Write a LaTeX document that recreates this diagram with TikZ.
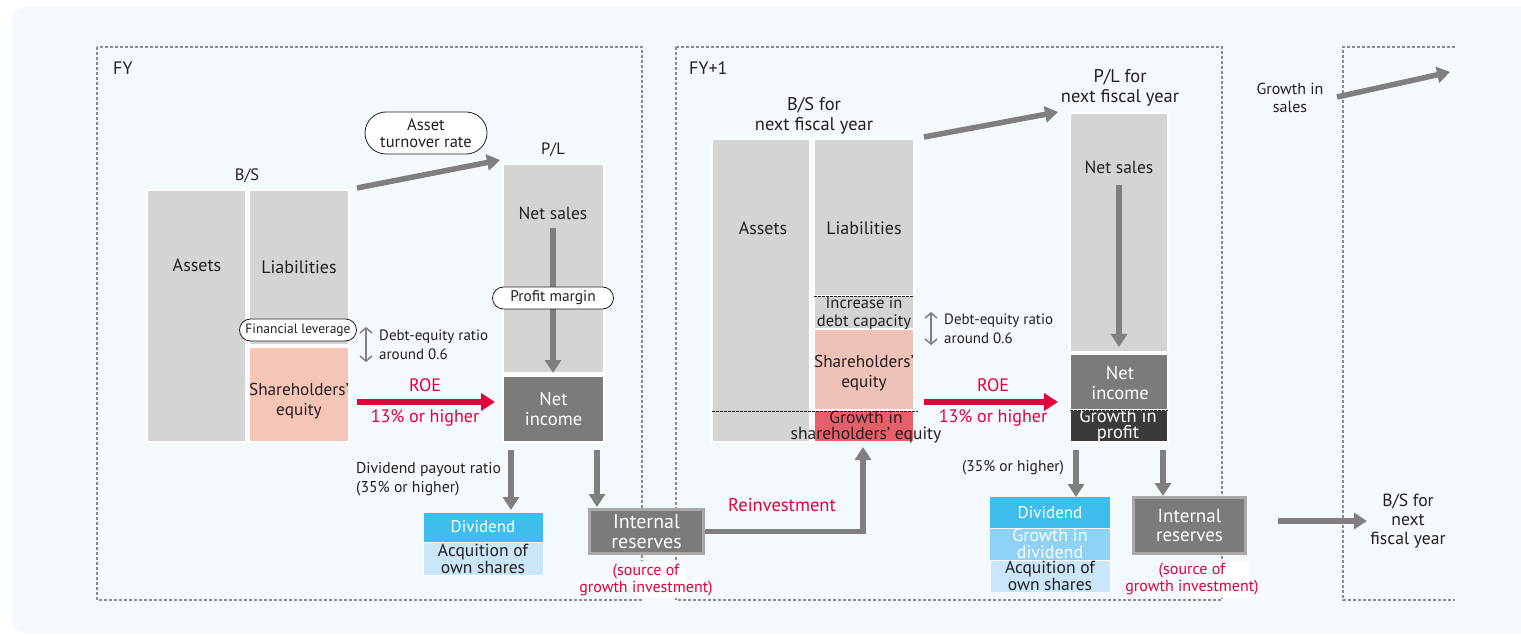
\documentclass[tikz,border=0pt]{standalone}
\usepackage{fontspec}
\setmainfont{PT Sans}
\usetikzlibrary{arrows.meta}
\definecolor{bg}{HTML}{F3F9FD}
\definecolor{txt}{HTML}{231F20}
\definecolor{lgray}{HTML}{D4D4D4}
\definecolor{dgray}{HTML}{7B7B7B}
\definecolor{ddgray}{HTML}{3A3A3A}
\definecolor{salmon}{HTML}{F5C5B6}
\definecolor{salmontwo}{HTML}{EEC2B7}
\definecolor{redbox}{HTML}{E6606B}
\definecolor{cyanbox}{HTML}{3EBEEE}
\definecolor{mblue}{HTML}{8ED2F5}
\definecolor{lblue}{HTML}{C9E7F8}
\definecolor{agray}{HTML}{7F7F7F}
\definecolor{rojo}{HTML}{E5003A}
\definecolor{framec}{HTML}{8C8C8C}
\definecolor{irborder}{HTML}{A8A8A8}
\newcommand\fs[2]{\fontsize{#1}{#2}\selectfont}
\tikzset{
 lbl/.style={inner sep=0pt, align=center, text=txt},
 box/.style={draw=white, line width=1.5pt, inner sep=0pt, align=center, text=txt},
 pill/.style={draw=txt, fill=white, line width=0.8pt, rounded corners=#1, inner sep=0pt, text=txt, align=center},
 garrow/.style={draw=agray, line width=5.5pt, -{Triangle[width=16pt,length=13pt]}},
 rarrow/.style={draw=rojo, line width=5.5pt, -{Triangle[width=17pt,length=14pt]}},
 darrow/.style={draw=agray, line width=1.5pt, {Straight Barb[length=5pt,width=12pt]}-{Straight Barb[length=5pt,width=12pt]}},
 frame/.style={draw=framec, line width=1.1pt, dash pattern=on 3pt off 2pt},
 dline/.style={draw=txt, line width=0.9pt, dash pattern=on 2.5pt off 1.5pt},
 irbox/.style={draw=irborder, line width=3pt, fill=dgray, text=white, inner sep=0pt, align=center},
}
\begin{document}
\begin{tikzpicture}[x=1pt,y=-1pt]
\useasboundingbox (0,0) rectangle (1521,636);
\fill[white] (0,0) rectangle (1521,636);
\begin{scope}
\clip (0,0) rectangle (1521,636);
\fill[bg, rounded corners=15pt] (12,7) rectangle (1560,633);
\end{scope}
% frames
\draw[frame] (97,47) rectangle (642,600);
\draw[frame] (676,47) rectangle (1222,600);
\draw[frame] (1455,47) -- (1343,47) -- (1343,600) -- (1455,600);
\fill[white] (635,561) rectangle (686,598);
\fill[white] (1193,561) rectangle (1250,598);

% ===== FY =====
\node[lbl, anchor=west, font=\fs{18}{20}] (fy) at (113,68) {FY};
\node[lbl, font=\fs{16.5}{19}] (bslbl) at (247,176) {B/S};
\node[box, fill=lgray, minimum width=99pt, minimum height=252pt] (assets) at (196.5,316) {};
\node[lbl, font=\fs{18}{21}] (assetst) at (197,265) {Assets};
\node[box, fill=lgray, minimum width=100pt, minimum height=155pt, font=\fs{18}{21}] (liab) at (299,267.5) {Liabilities};
\node[box, fill=salmon, minimum width=100pt, minimum height=95pt] (equity) at (299,394.5) {};
\node[lbl, font=\fs{17.2}{19.5}] (equityt) at (299,401) {Shareholders’\\equity};
\node[pill=11pt, minimum width=117pt, minimum height=22pt, font=\fs{13.5}{15}] (finlev) at (298,330) {Financial leverage};

\node[lbl, font=\fs{16.5}{19}] (pllbl) at (553,150) {P/L};
\node[box, fill=lgray, minimum width=101pt, minimum height=209pt] (ns) at (553.5,268.5) {};
\node[lbl, font=\fs{17.5}{20}] (nst) at (553,213) {Net sales};
\node[box, fill=dgray, minimum width=101pt, minimum height=66pt, text=white, font=\fs{18.5}{20}] (ni) at (553.5,409) {Net\\income};
\coordinate (nsa) at (553,228);
\coordinate (nsb) at (553,373);
\draw[garrow] (nsa) -- (nsb);
\node[pill=11pt, minimum width=121pt, minimum height=22pt, font=\fs{15.4}{17}] (pm) at (553,298) {Profit margin};

\node[pill=21pt, minimum width=122pt, minimum height=42pt, font=\fs{16.5}{17.5}] (atr) at (426,133) {Asset\\turnover rate};
\coordinate (a1s) at (357,188);
\coordinate (a1e) at (500,160);
\draw[garrow] (a1s) -- (a1e);

\coordinate (de1a) at (366,327);
\coordinate (de1b) at (366,362);
\draw[darrow] (de1a) -- (de1b);
\node[lbl, anchor=west, align=left, font=\fs{15}{19}] (de1) at (379,345) {Debt-equity ratio\\around 0.6};

\coordinate (r1s) at (357,402);
\coordinate (r1e) at (495,402);
\draw[rarrow] (r1s) -- (r1e);
\node[lbl, text=rojo, font=\fs{18}{20}] (roe1) at (425,385) {ROE};
\node[lbl, text=rojo, font=\fs{18}{20}] (roe1p) at (425,418) {13\% or higher};

\node[lbl, anchor=west, align=left, font=\fs{15.7}{19.5}] (dpr) at (356,479) {Dividend payout ratio\\(35\% or higher)};

\node[box, draw=white, line width=1pt, fill=cyanbox, minimum width=120pt, minimum height=30pt, text=white, font=\fs{17}{19}] (div) at (483,527) {Dividend};
\node[box, draw=white, line width=1pt, fill=lblue, minimum width=120pt, minimum height=33pt, font=\fs{17.5}{17}] (acq) at (483,558.5) {Acquition of\\own shares};
\node[irbox, minimum width=114pt, minimum height=44pt, font=\fs{20}{20}] (ir) at (646.5,531.5) {Internal\\reserves};
\node[lbl, text=rojo, font=\fs{16}{16.5}] (src) at (646,580) {(source of\\growth investment)};

\coordinate (d1s) at (511,450);
\coordinate (d1e) at (511,510);
\draw[garrow] (d1s) -- (d1e);
\coordinate (d2s) at (597,450);
\coordinate (d2e) at (597,507);
\draw[garrow] (d2s) -- (d2e);

% ===== FY+1 =====
\node[lbl, anchor=west, font=\fs{18}{20}] (fy1) at (689,68) {FY+1};
\node[lbl, font=\fs{18.4}{19.5}] (bs2lbl) at (814,116) {B/S for\\next fiscal year};
\node[box, fill=lgray, minimum width=98pt, minimum height=303pt] (assets2) at (761,290.5) {};
\node[lbl, font=\fs{18}{21}] (assets2t) at (763,228) {Assets};
\node[box, fill=lgray, minimum width=100pt, minimum height=157pt] (liab2) at (864,217.5) {};
\node[lbl, font=\fs{18}{21}] (liab2t) at (864,228) {Liabilities};
\node[box, fill=lgray, minimum width=100pt, minimum height=33pt] (incd) at (864,312) {};
\node[lbl, font=\fs{16.5}{18}] (incdt) at (864,313) {Increase in\\debt capacity};
\node[box, fill=salmontwo, minimum width=100pt, minimum height=81pt] (eq2) at (864,370) {};
\node[lbl, font=\fs{17.2}{19.5}] (eq2t) at (864,373) {Shareholders’\\equity};
\node[box, fill=redbox, minimum width=100pt, minimum height=32pt] (geq) at (864,426) {};
\node[lbl, font=\fs{17.5}{15.5}] (geqt) at (866,427) {Growth in\\shareholders’ equity};
\coordinate (dl1a) at (712,411);
\coordinate (dl1b) at (918,411);
\draw[dline] (dl1a) -- (dl1b);
\coordinate (dl2a) at (814,296);
\coordinate (dl2b) at (914,296);
\draw[dline] (dl2a) -- (dl2b);

\coordinate (de2a) at (931,312);
\coordinate (de2b) at (931,345);
\draw[darrow] (de2a) -- (de2b);
\node[lbl, anchor=west, align=left, font=\fs{15}{19}] (de2) at (944,329) {Debt-equity ratio\\around 0.6};

\coordinate (a2s) at (924,137);
\coordinate (a2e) at (1058,112);
\draw[garrow] (a2s) -- (a2e);

\node[lbl, font=\fs{18.4}{19.5}] (pl2lbl) at (1120,88) {P/L for\\next fiscal year};
\node[box, fill=lgray, minimum width=98pt, minimum height=239pt] (ns2) at (1119,232.5) {};
\node[lbl, font=\fs{17.5}{20}] (ns2t) at (1119,167) {Net sales};
\coordinate (ns2a) at (1119,185);
\coordinate (ns2b) at (1119,347);
\draw[garrow] (ns2a) -- (ns2b);
\node[box, fill=dgray, minimum width=98pt, minimum height=56pt] (ni2) at (1119,382.5) {};
\node[lbl, text=white, font=\fs{18.5}{19.5}] (ni2t) at (1120,383) {Net\\income};
\node[box, fill=ddgray, minimum width=98pt, minimum height=32pt] (gp) at (1119,426) {};
\node[lbl, text=white, font=\fs{18.5}{16}] (gpt) at (1118,426) {Growth in\\profit};
\coordinate (dl3a) at (1070,410);
\coordinate (dl3b) at (1168,410);
\draw[dline] (dl3a) -- (dl3b);

\coordinate (r2s) at (924,402);
\coordinate (r2e) at (1058,402);
\draw[rarrow] (r2s) -- (r2e);
\node[lbl, text=rojo, font=\fs{18}{20}] (roe2) at (993,385) {ROE};
\node[lbl, text=rojo, font=\fs{18}{20}] (roe2p) at (993,418) {13\% or higher};

\node[lbl, font=\fs{15.5}{17}] (dpr2) at (1013,468) {(35\% or higher)};
\coordinate (d3s) at (1076,450);
\coordinate (d3e) at (1076,497);
\draw[garrow] (d3s) -- (d3e);
\coordinate (d4s) at (1163,450);
\coordinate (d4e) at (1163,496);
\draw[garrow] (d4s) -- (d4e);

\node[box, line width=0pt, draw=none, fill=cyanbox, minimum width=120pt, minimum height=31pt, text=white, font=\fs{17}{19}] (div2) at (1050,512.5) {Dividend};
\node[box, line width=0pt, draw=none, fill=mblue, minimum width=120pt, minimum height=31pt, text=white, font=\fs{18}{17}] (gdiv) at (1050,544) {Growth in\\dividend};
\node[box, draw=white, line width=1pt, fill=lblue, minimum width=120pt, minimum height=32pt, font=\fs{17.5}{17}] (acq2) at (1050,576) {Acquition of\\own shares};
\node[irbox, minimum width=112pt, minimum height=56pt, font=\fs{19}{19.5}] (ir2) at (1189.5,525.5) {Internal\\reserves};
\node[lbl, text=rojo, font=\fs{16}{16.5}] (src2) at (1192,579) {(source of\\growth investment)};

% reinvestment
\coordinate (rv) at (863,447);
\draw[garrow] (ir.east) -| (rv);
\node[lbl, text=rojo, font=\fs{18.5}{20}] (reinv) at (782,505) {Reinvestment};

% ===== next =====
\node[lbl, font=\fs{16}{17.5}] (gs) at (1290,98) {Growth in\\sales};
\coordinate (a3s) at (1337,97);
\coordinate (a3e) at (1450,72);
\draw[garrow] (a3s) -- (a3e);
\coordinate (a4s) at (1278,521);
\coordinate (a4e) at (1367,521);
\draw[garrow] (a4s) -- (a4e);
\node[lbl, font=\fs{17.6}{19}] (bs3) at (1408,521) {B/S for\\next\\fiscal year};
\end{tikzpicture}
\end{document}
